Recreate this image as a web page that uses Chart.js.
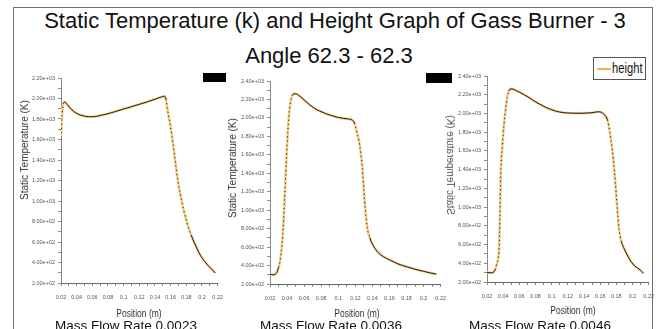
<!DOCTYPE html>
<html>
<head>
<meta charset="utf-8">
<script src="https://cdn.jsdelivr.net/npm/chart.js@4.4.1/dist/chart.umd.min.js"></script>
<style>
  html, body { margin: 0; padding: 0; background: #fff; }
  #fig { position: relative; width: 658px; height: 329px; overflow: hidden;
         font-family: 'Liberation Sans', Arial, sans-serif; color: #111; }
  .frame { position: absolute; left: 13px; top: 7px; width: 638px; height: 340px;
           border: 1px solid #707070; border-bottom: none; }
  .title { position: absolute; width: 700px; margin-left: -350px; text-align: center;
           font-size: 22px; line-height: 22px; white-space: nowrap; color: #111; }
  .caption { position: absolute; width: 200px; margin-left: -100px; text-align: center;
             font-size: 13.5px; line-height: 14px; white-space: nowrap; }
  .xtitle { position: absolute; width: 100px; margin-left: -50px; text-align: center;
            font-size: 10px; line-height: 10px; color: #333; white-space: nowrap;
            transform: scaleX(0.85); }
  .ytitle { position: absolute; font-size: 10px; line-height: 10px; color: #333;
            white-space: nowrap; transform: translate(-50%, -50%) rotate(-90deg); }
  .ytitle.mirror { transform: translate(-50%, -50%) scaleX(-1) rotate(-90deg); color: #555; }
  .mask { position: absolute; background: #000; }
  .legend { position: absolute; left: 593px; top: 57px; width: 51px; height: 21px;
            border: 1px solid #555; background: #fff; }
  .legend .swatch { position: absolute; left: 3px; top: 10px; width: 14px; height: 2px; background: #f2b447; }
  .legend .label { position: absolute; left: 18px; top: 2px; font-size: 14px; line-height: 16px;
                   color: #111; transform: scaleX(0.8); transform-origin: 0 0; }
  canvas { position: absolute; }
</style>
</head>
<body>
<div id="fig">
  <div class="frame"></div>
  <div class="title" style="left:335px;top:10px;">Static Temperature (k) and Height Graph of Gass Burner - 3</div>
  <div class="title" style="left:329px;top:45px;">Angle 62.3 - 62.3</div>

  <div class="legend"><div class="swatch"></div><div class="label">height</div></div>
  <div class="mask" style="left:203px;top:73px;width:23px;height:9px;"></div>
  <div class="mask" style="left:426px;top:73px;width:26px;height:10px;"></div>

  <canvas id="c1"></canvas>
  <canvas id="c2"></canvas>
  <canvas id="c3"></canvas>

  <div class="ytitle" style="left:25px;top:150px;">Static Temperature (K)</div>
  <div class="ytitle" style="left:233px;top:168px;">Static Temperature (K)</div>
  <div class="ytitle mirror" style="left:450px;top:165px;">Static Temperature (K)</div>

  <div class="xtitle" style="left:139px;top:309px;">Position (m)</div>
  <div class="xtitle" style="left:357px;top:309px;">Position (m)</div>
  <div class="xtitle" style="left:573px;top:306px;">Position (m)</div>

  <div class="caption" id="cap1" style="left:126px;top:319px;"></div>
  <div class="caption" id="cap2" style="left:331px;top:319px;"></div>
  <div class="caption" id="cap3" style="left:540px;top:319px;"></div>
</div>

<script>
// Burner centre-line profiles: position along the burner (m) and static temperature (K)
const flowRates = ['0.0023', '0.0036', '0.0046'];

// Mass flow rate 0.0023
const pos1 = [0.020, 0.0215, 0.023, 0.025, 0.028, 0.032, 0.036, 0.040, 0.045, 0.050,
              0.055, 0.060, 0.065, 0.070, 0.080, 0.090, 0.100, 0.110, 0.120, 0.130,
              0.140, 0.148, 0.152, 0.154, 0.156, 0.160, 0.163, 0.166, 0.169, 0.173,
              0.177, 0.181, 0.186, 0.191, 0.198, 0.205, 0.211, 0.217];
const temp1 = [1620, 1850, 1950, 1965, 1940, 1905, 1875, 1855, 1838, 1828,
               1822, 1822, 1826, 1834, 1852, 1874, 1898, 1920, 1943, 1967,
               1993, 2015, 2022, 1995, 1890, 1720, 1560, 1380, 1210, 1040,
               900, 785, 670, 580, 470, 395, 345, 298];

// Mass flow rate 0.0036
const pos2 = [0.020, 0.024, 0.026, 0.028, 0.030, 0.032, 0.034, 0.036, 0.038, 0.040,
              0.042, 0.044, 0.046, 0.048, 0.050, 0.055, 0.060, 0.066, 0.072, 0.078,
              0.085, 0.092, 0.100, 0.106, 0.112, 0.116, 0.119, 0.122, 0.125, 0.128,
              0.130, 0.132, 0.134, 0.137, 0.142, 0.148, 0.155, 0.161, 0.170, 0.181,
              0.190, 0.200, 0.208, 0.215];
const temp2 = [305, 300, 305, 325, 380, 460, 620, 900, 1300, 1700,
               2000, 2170, 2240, 2262, 2262, 2235, 2195, 2146, 2105, 2075,
               2048, 2025, 2005, 1995, 1988, 1978, 1945, 1840, 1713, 1480,
               1220, 980, 810, 700, 600, 530, 485, 458, 418, 385,
               360, 337, 320, 307];

// Mass flow rate 0.0046
const pos3 = [0.020, 0.025, 0.028, 0.030, 0.032, 0.034, 0.035, 0.036, 0.037, 0.039,
              0.041, 0.043, 0.045, 0.047, 0.049, 0.052, 0.056, 0.060, 0.066, 0.072,
              0.078, 0.085, 0.092, 0.100, 0.110, 0.120, 0.130, 0.140, 0.150, 0.158,
              0.162, 0.166, 0.169, 0.172, 0.175, 0.1775, 0.180, 0.182, 0.1835, 0.186,
              0.190, 0.1935, 0.198, 0.203, 0.2095, 0.2136];
const temp3 = [300, 298, 305, 330, 390, 460, 560, 900, 1350, 1650,
               1880, 2040, 2170, 2240, 2262, 2260, 2245, 2228, 2200, 2170,
               2135, 2100, 2068, 2040, 2015, 2005, 2002, 2003, 2008, 2018,
               2010, 1980, 1932, 1800, 1612, 1400, 1120, 900, 760, 640,
               550, 489, 420, 370, 328, 293];

const TICK_FONT = "'Liberation Sans Narrow', 'Liberation Sans', sans-serif";

// 2.00e+02 style labels
function fmtExp(v) {
  let e = Math.floor(Math.log10(v));
  let m = v / Math.pow(10, e);
  if (m >= 9.995) { m /= 10; e += 1; }
  return m.toFixed(2) + 'e+' + String(e).padStart(2, '0');
}

function panel(id, xs, ys, box, yMax) {
  const padL = 40, padT = 8, padR = 12, padB = 26;
  const cv = document.getElementById(id);
  const w = box.r - box.l + padL + padR;
  const h = box.b - box.t + padT + padB;
  cv.width = w; cv.height = h;
  cv.style.width = w + 'px'; cv.style.height = h + 'px';
  cv.style.left = (box.l - padL) + 'px';
  cv.style.top = (box.t - padT) + 'px';

  const pts = xs.map((x, i) => ({ x: x, y: ys[i] }));
  const steep = ctx => Math.abs(ctx.p1.y - ctx.p0.y) > 3 * Math.abs(ctx.p1.x - ctx.p0.x);

  new Chart(cv, {
    type: 'line',
    data: {
      datasets: [
        { label: 'height', data: pts, borderColor: '#f5cf88', borderWidth: 2.6,
          pointRadius: 0, cubicInterpolationMode: 'monotone', order: 2 },
        { label: 'profile', data: pts, borderColor: '#1e1e1e', borderWidth: 1,
          pointRadius: 0, cubicInterpolationMode: 'monotone', order: 1,
          segment: { borderDash: ctx => steep(ctx) ? [1.2, 3] : undefined } }
      ]
    },
    options: {
      responsive: false,
      animation: false,
      devicePixelRatio: 1,
      layout: { autoPadding: false, padding: { left: 0, top: padT, right: padR, bottom: 0 } },
      plugins: { legend: { display: false }, tooltip: { enabled: false } },
      scales: {
        x: {
          type: 'linear', min: 0.02, max: 0.22,
          afterFit: s => { s.height = padB; },
          grid: { drawOnChartArea: false, drawTicks: true, tickLength: 3, color: '#8a8a8a' },
          border: { color: '#666', width: 1 },
          ticks: {
            stepSize: 0.01, autoSkip: false, maxRotation: 0, minRotation: 0, padding: 8,
            color: '#555', font: { size: 5.5, family: TICK_FONT },
            callback: v => { const k = Math.round(v * 100); return k % 2 === 0 ? String(k / 100) : ''; }
          }
        },
        y: {
          min: 200, max: yMax,
          afterFit: s => { s.width = padL; },
          grid: { drawOnChartArea: false, drawTicks: true, tickLength: 3, color: '#8a8a8a' },
          border: { color: '#888', width: 1 },
          ticks: {
            stepSize: 100, autoSkip: false, padding: 3,
            color: '#555', font: { size: 5.5, family: TICK_FONT },
            callback: v => (Math.round(v) % 200 === 0 ? fmtExp(v) : '')
          }
        }
      }
    }
  });
}

panel('c1', pos1, temp1, { l: 61, r: 219, t: 78, b: 283 }, 2200);
panel('c2', pos2, temp2, { l: 270, r: 442, t: 81, b: 284 }, 2400);
panel('c3', pos3, temp3, { l: 487, r: 650, t: 76, b: 282 }, 2400);

flowRates.forEach((r, i) => {
  document.getElementById('cap' + (i + 1)).textContent = 'Mass Flow Rate ' + r;
});
</script>
</body>
</html>
